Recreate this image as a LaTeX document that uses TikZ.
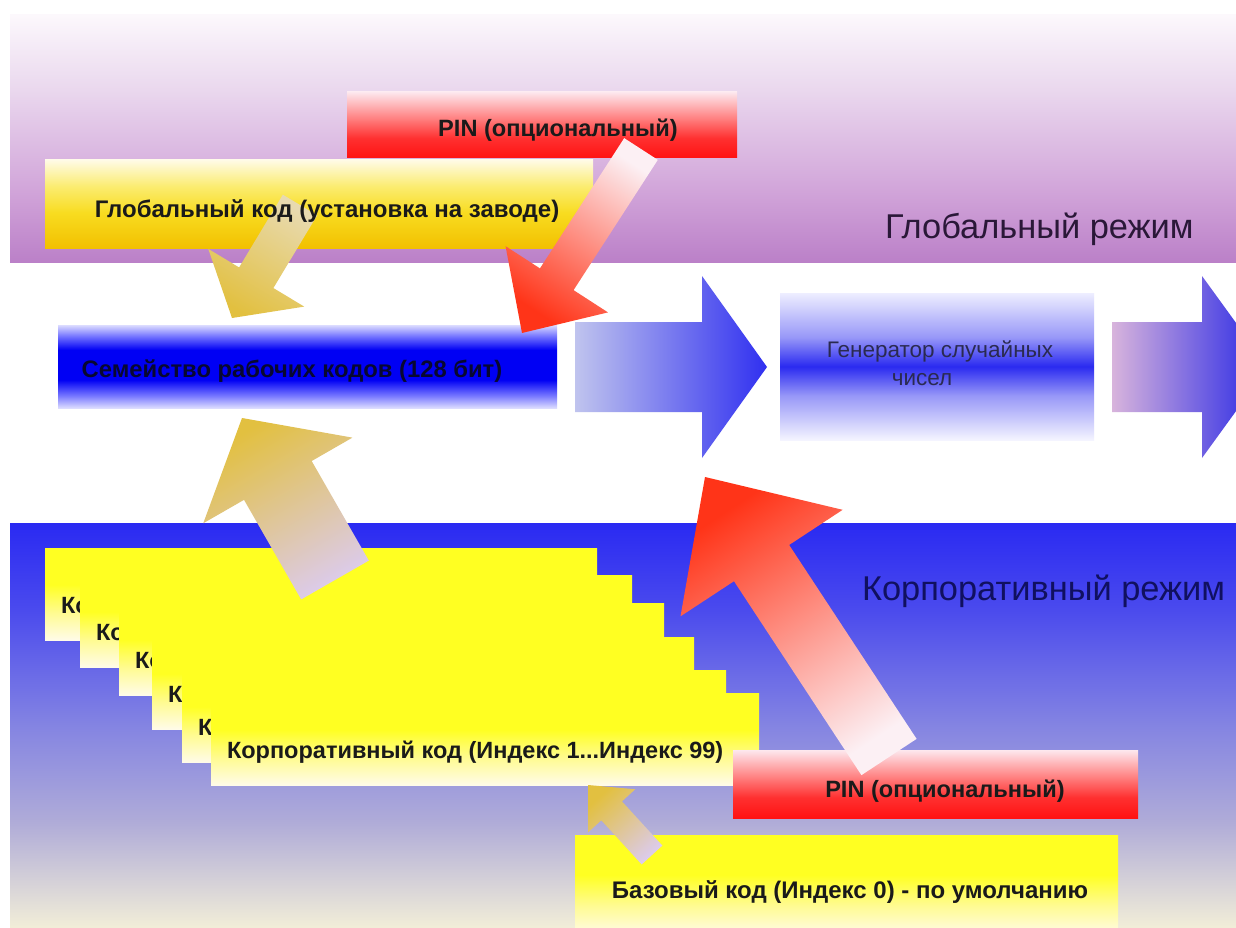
\documentclass[tikz,border=0pt]{standalone}
\usepackage{fontspec}
\setmainfont{Liberation Sans}
\usetikzlibrary{calc}

\definecolor{pb0}{HTML}{BB80C8}
\definecolor{pb1}{HTML}{D2A6DA}
\definecolor{pb2}{HTML}{EAD8EE}
\definecolor{pb3}{HTML}{FCF8FC}
\definecolor{bb0}{HTML}{F2EED8}
\definecolor{bb1}{HTML}{B0ACD8}
\definecolor{bb2}{HTML}{8484E2}
\definecolor{bb3}{HTML}{4848EE}
\definecolor{bb4}{HTML}{2A2AF2}
\definecolor{rd0}{HTML}{FF1212}
\definecolor{rd1}{HTML}{FF3030}
\definecolor{rd2}{HTML}{FF8080}
\definecolor{rd3}{HTML}{FDE8EE}
\definecolor{gd0}{HTML}{F2C000}
\definecolor{gd1}{HTML}{F8DC20}
\definecolor{gd2}{HTML}{FBEC70}
\definecolor{gd3}{HTML}{FFFBE6}
\definecolor{ys0}{HTML}{FFFBE8}
\definecolor{ys1}{HTML}{FFFB90}
\definecolor{ys2}{HTML}{FFFF22}
\definecolor{bl0}{HTML}{DCDCFF}
\definecolor{bl1}{HTML}{7070FF}
\definecolor{bl2}{HTML}{0000F4}
\definecolor{gn0}{HTML}{F4F4FF}
\definecolor{gn1}{HTML}{9898F8}
\definecolor{gn2}{HTML}{2A2AF0}
\definecolor{gn3}{HTML}{EEEEFF}
\definecolor{txtdark}{HTML}{1A1A1A}
\definecolor{bartxt}{HTML}{080830}
\definecolor{gentxt}{HTML}{2A2A50}
\definecolor{globtxt}{HTML}{2A1838}
\definecolor{corptxt}{HTML}{101060}
\definecolor{tipgold}{HTML}{E2C040}
\definecolor{tailkhaki}{HTML}{E8DAB0}
\definecolor{taillav}{HTML}{DCCBEA}
\definecolor{tipred}{HTML}{FF3418}
\definecolor{tailwhite}{HTML}{FCF0F4}
\definecolor{arlight}{HTML}{C0C4EE}
\definecolor{arblue}{HTML}{3030F0}
\definecolor{arpink}{HTML}{D8B4DC}
\definecolor{arblue2}{HTML}{2424E6}

\pgfdeclareverticalshading{purpleband}{100bp}{color(0bp)=(pb0); color(25bp)=(pb0); color(40bp)=(pb1); color(60bp)=(pb2); color(75bp)=(pb3); color(100bp)=(pb3)}
\pgfdeclareverticalshading{blueband}{100bp}{color(0bp)=(bb0); color(25bp)=(bb0); color(38bp)=(bb1); color(50bp)=(bb2); color(65bp)=(bb3); color(75bp)=(bb4); color(100bp)=(bb4)}
\pgfdeclareverticalshading{redshade}{100bp}{color(0bp)=(rd0); color(25bp)=(rd0); color(40bp)=(rd1); color(55bp)=(rd2); color(75bp)=(rd3); color(100bp)=(rd3)}
\pgfdeclareverticalshading{goldshade}{100bp}{color(0bp)=(gd0); color(25bp)=(gd0); color(45bp)=(gd1); color(60bp)=(gd2); color(75bp)=(gd3); color(100bp)=(gd3)}
\pgfdeclareverticalshading{yellowshade}{100bp}{color(0bp)=(ys0); color(25bp)=(ys0); color(40bp)=(ys1); color(55bp)=(ys2); color(75bp)=(ys2); color(100bp)=(ys2)}
\pgfdeclareverticalshading{barshade}{100bp}{color(0bp)=(bl0); color(25bp)=(bl0); color(33bp)=(bl1); color(42bp)=(bl2); color(60bp)=(bl2); color(68bp)=(bl1); color(75bp)=(bl0); color(100bp)=(bl0)}
\pgfdeclareverticalshading{genshade}{100bp}{color(0bp)=(gn0); color(25bp)=(gn0); color(40bp)=(gn1); color(50bp)=(gn2); color(60bp)=(gn1); color(75bp)=(gn3); color(100bp)=(gn3)}

% #1 options, #2 tail, #3 tip, #4 half shaft width, #5 half head width, #6 head length
\newcommand{\fatarrow}[6]{%
  \coordinate (fa-b) at ($(#3)!#6!(#2)$);
  \shade[#1] ($(#2)!#4!90:(#3)$) -- ($(fa-b)!#4!90:(#3)$) -- ($(fa-b)!#5!90:(#3)$) -- (#3)
    -- ($(fa-b)!#5!-90:(#3)$) -- ($(fa-b)!#4!-90:(#3)$) -- ($(#2)!#4!-90:(#3)$) -- cycle;
}

\begin{document}
\begin{tikzpicture}[x=1pt,y=-1pt,
  every node/.style={inner sep=0pt,outer sep=0pt},
  boxtext/.style={font=\fontsize{24}{28}\selectfont\bfseries,text=txtdark},
  pintext/.style={font=\fontsize{23.6}{28}\selectfont\bfseries,text=txtdark},
  modetext/.style={font=\fontsize{34.4}{40}\selectfont},
  redbox/.style={shade,shading=redshade,anchor=north west},
  goldbox/.style={shade,shading=goldshade,anchor=north west},
  yelbox/.style={shade,shading=yellowshade,anchor=north west},
  barbox/.style={shade,shading=barshade,anchor=north west},
  genbox/.style={shade,shading=genshade,anchor=north west},
]
\useasboundingbox (0,0) rectangle (1236,928);
\clip (0,0) rectangle (1236,928);
\fill[white] (0,0) rectangle (1236,928);

% mode bands
\shade[shading=purpleband] (10,15) rectangle (1236,262);
\shade[shading=blueband] (10,523) rectangle (1236,928);

\node[modetext,text=globtxt,anchor=base west] (globmode) at (885,238) {Глобальный режим};
\node[modetext,text=corptxt,anchor=base west] (corpmode) at (862,600) {Корпоративный режим};

% global mode boxes
\node[redbox,minimum width=390pt,minimum height=66pt] (pin1) at (347,92) {};
\node[pintext,anchor=base] (pin1t) at (558,137) {PIN (опциональный)};
\node[goldbox,minimum width=548pt,minimum height=88pt] (glob) at (45,160) {};

% working code bar
\node[barbox,minimum width=499pt,minimum height=83pt] (bar) at (58,325) {};
\node[font=\fontsize{23.8}{28}\selectfont\bfseries,text=bartxt,anchor=base] (bart) at (292,377) {Семейство рабочих кодов (128 бит)};

% arrows from the global boxes
\coordinate (ytail) at (300,205);
\coordinate (ytip) at (232,318);
\fatarrow{top color=tipgold,bottom color=tailkhaki,shading angle=149}{ytail}{ytip}{20pt}{56pt}{47pt}
\node[boxtext,anchor=base] (globt) at (327,218) {Глобальный код (установка на заводе)};

\coordinate (rtail) at (641,149);
\coordinate (rtip) at (522,333);
\fatarrow{top color=tipred,bottom color=tailwhite,shading angle=147}{rtail}{rtip}{20pt}{61pt}{64pt}

% flow arrows and generator
\coordinate (b1tail) at (575,367);
\coordinate (b1tip) at (767,367);
\fatarrow{left color=arlight,right color=arblue}{b1tail}{b1tip}{45pt}{91pt}{65pt}
\node[genbox,minimum width=314pt,minimum height=147pt] (gen) at (780,293) {};
\node[font=\fontsize{22.5}{28}\selectfont,text=gentxt,anchor=base] (gent1) at (940,357) {Генератор случайных};
\node[font=\fontsize{22.5}{28}\selectfont,text=gentxt,anchor=base] (gent2) at (922,385) {чисел};
\coordinate (b2tail) at (1112,367);
\coordinate (b2tip) at (1268,367);
\fatarrow{left color=arpink,right color=arblue2}{b2tail}{b2tip}{45pt}{91pt}{66pt}

% corporate code stack (each box drawn over the previous box's text)
\foreach \i/\bl/\bt/\br in {0/45/548/597, 1/80/575/632, 2/119/603/664, 3/152/637/694, 4/182/670/726, 5/211/693/759}{
  \node[yelbox,minimum width={(\br-\bl)*1pt},minimum height=92pt] (s\i) at (\bl,\bt) {};
  \node[boxtext,font=\fontsize{23.5}{28}\selectfont\bfseries,anchor=base west] (t\i) at ($(s\i.north west)+(16,65)$) {Корпоративный код (Индекс 1...Индекс 99)};
}

% big yellow arrow up
\coordinate (ctail) at (335,580);
\coordinate (ctip) at (242,418);
\fatarrow{top color=tipgold,bottom color=taillav,shading angle=30}{ctail}{ctip}{39pt}{86pt}{72pt}

% corporate PIN and base code
\node[redbox,minimum width=405pt,minimum height=68pt] (pin2) at (733,750) {};
\node[pintext,anchor=base] (pin2t) at (945,797) {PIN (опциональный)};
\coordinate (r2tail) at (889,757);
\coordinate (r2tip) at (705,477);
\fatarrow{top color=tipred,bottom color=tailwhite,shading angle=33.5}{r2tail}{r2tip}{33pt}{97pt}{103pt}

\node[yelbox,minimum width=543pt,minimum height=100pt] (base) at (575,835) {};
\node[boxtext,anchor=base] (baset) at (850,898) {Базовый код (Индекс 0) - по умолчанию};
\coordinate (stail) at (652,855);
\coordinate (stip) at (588,785);
\fatarrow{top color=tipgold,bottom color=taillav,shading angle=42}{stail}{stip}{14pt}{32pt}{35pt}
\end{tikzpicture}
\end{document}
